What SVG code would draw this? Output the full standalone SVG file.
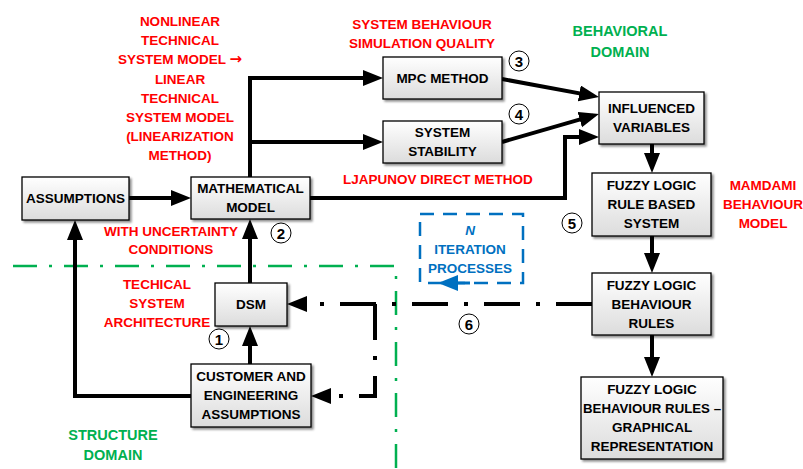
<svg xmlns="http://www.w3.org/2000/svg" width="803" height="469" viewBox="0 0 803 469">
<defs>
<linearGradient id="g" x1="0" y1="0" x2="0" y2="1"><stop offset="0" stop-color="#ffffff"/><stop offset="1" stop-color="#dcdcdc"/></linearGradient>
<filter id="sh" x="-10%" y="-10%" width="130%" height="140%"><feDropShadow dx="2" dy="2" stdDeviation="1" flood-color="#000" flood-opacity="0.45"/></filter>
<marker id="ah" markerUnits="userSpaceOnUse" markerWidth="22" markerHeight="18" refX="14" refY="8" orient="auto"><path d="M0,0 L20,8 L0,16 z" fill="#000"/></marker>
<marker id="ahb" markerUnits="userSpaceOnUse" markerWidth="22" markerHeight="18" refX="14" refY="8" orient="auto"><path d="M0,0 L20,8 L0,16 z" fill="#0070C0"/></marker>
<style>
.box{fill:url(#g);stroke:#000;stroke-width:1.3;filter:url(#sh)}
.t{font-family:"Liberation Sans",Arial,sans-serif;font-weight:bold;font-size:13.5px;text-anchor:middle;fill:#000}
.r{fill:#FF0000}
.gr{fill:#00B050;font-size:14.5px}
.bl{fill:#0070C0}
.c{fill:none;stroke:#000;stroke-width:4}
.dd{fill:none;stroke:#000;stroke-width:4;stroke-dasharray:36 16 4 16}
.gd{fill:none;stroke:#00B050;stroke-width:2.5;stroke-dasharray:24 12 3 12}
.num{fill:#fff;stroke:#000;stroke-width:1}
.nt{font-size:15px}
</style>
</defs>

<g id="domains">
<path class="gd" d="M13,266 H396 V469"/>
<rect x="420" y="214" width="103" height="69" fill="none" stroke="#0070C0" stroke-width="2.5" stroke-dasharray="14 9"/>
<line x1="470" y1="283" x2="444" y2="283" stroke="#0070C0" stroke-width="3" marker-end="url(#ahb)"/>
</g>

<g id="connectors">
<line class="c" x1="129" y1="198" x2="185" y2="198" marker-end="url(#ah)"/>
<path class="c" d="M250,177 V78 H377" marker-end="url(#ah)"/>
<path class="c" d="M250,142 H377" marker-end="url(#ah)"/>
<path class="c" d="M310,198 H565 V137 H593" marker-end="url(#ah)"/>
<line class="c" x1="502" y1="79" x2="593.1" y2="95.9" marker-end="url(#ah)"/>
<line class="c" x1="502" y1="142" x2="593.2" y2="115.7" marker-end="url(#ah)"/>
<line class="c" x1="652" y1="144" x2="652" y2="167" marker-end="url(#ah)"/>
<line class="c" x1="652" y1="236" x2="652" y2="267" marker-end="url(#ah)"/>
<line class="c" x1="652" y1="335" x2="652" y2="371" marker-end="url(#ah)"/>
<line class="c" x1="250" y1="283" x2="250" y2="225" marker-end="url(#ah)"/>
<line class="c" x1="250" y1="364" x2="250" y2="332" marker-end="url(#ah)"/>
<path class="c" d="M191,396 H75 V226" marker-end="url(#ah)"/>
<path class="dd" d="M592,304 H293" marker-end="url(#ah)"/>
<path class="dd" d="M375,304 V396 H317" marker-end="url(#ah)"/>
</g>

<g id="assumptions">
<rect class="box" x="22" y="177" width="107" height="43"/>
<text class="t" x="75.5" y="203">ASSUMPTIONS</text>
</g>
<g id="mathematical-model">
<rect class="box" x="191" y="177" width="119" height="42"/>
<text class="t" x="250.5" y="193">MATHEMATICAL</text>
<text class="t" x="250.5" y="212">MODEL</text>
</g>
<g id="mpc-method">
<rect class="box" x="383" y="57" width="119" height="42"/>
<text class="t" x="442.5" y="83">MPC METHOD</text>
</g>
<g id="system-stability">
<rect class="box" x="383" y="121" width="119" height="42"/>
<text class="t" x="442.5" y="137">SYSTEM</text>
<text class="t" x="442.5" y="156">STABILITY</text>
</g>
<g id="influenced-variables">
<rect class="box" x="599" y="92" width="105" height="52"/>
<text class="t" x="651.5" y="113">INFLUENCED</text>
<text class="t" x="651.5" y="132">VARIABLES</text>
</g>
<g id="rule-based-system">
<rect class="box" x="592" y="173" width="119" height="63"/>
<text class="t" x="651.5" y="190">FUZZY LOGIC</text>
<text class="t" x="651.5" y="209">RULE BASED</text>
<text class="t" x="651.5" y="228">SYSTEM</text>
</g>
<g id="behaviour-rules">
<rect class="box" x="592" y="273" width="119" height="62"/>
<text class="t" x="651.5" y="290">FUZZY LOGIC</text>
<text class="t" x="651.5" y="309">BEHAVIOUR</text>
<text class="t" x="651.5" y="328">RULES</text>
</g>
<g id="graphical-representation">
<rect class="box" x="581" y="377" width="142" height="82"/>
<text class="t" x="652" y="394">FUZZY LOGIC</text>
<text class="t" x="652" y="413" textLength="138" lengthAdjust="spacingAndGlyphs">BEHAVIOUR RULES –</text>
<text class="t" x="652" y="432">GRAPHICAL</text>
<text class="t" x="652" y="451">REPRESENTATION</text>
</g>
<g id="dsm">
<rect class="box" x="215" y="283" width="72" height="43"/>
<text class="t" x="251" y="309">DSM</text>
</g>
<g id="customer-engineering-assumptions">
<rect class="box" x="191" y="364" width="120" height="63"/>
<text class="t" x="251" y="381">CUSTOMER AND</text>
<text class="t" x="251" y="400">ENGINEERING</text>
<text class="t" x="251" y="419">ASSUMPTIONS</text>
</g>

<g id="numbers">
<circle class="num" cx="519" cy="61" r="10"/><text class="t nt" x="519" y="66.5">3</text>
<circle class="num" cx="519" cy="114" r="10"/><text class="t nt" x="519" y="119.5">4</text>
<circle class="num" cx="281" cy="233" r="10"/><text class="t nt" x="281" y="238.5">2</text>
<circle class="num" cx="219" cy="339" r="10"/><text class="t nt" x="219" y="344.5">1</text>
<circle class="num" cx="572" cy="223" r="10"/><text class="t nt" x="572" y="228.5">5</text>
<circle class="num" cx="469" cy="324" r="10"/><text class="t nt" x="469" y="329.5">6</text>
</g>

<g id="labels">
<text class="t r" x="180" y="26">NONLINEAR</text>
<text class="t r" x="180" y="45">TECHNICAL</text>
<text class="t r" x="180" y="64">SYSTEM MODEL <tspan font-family="'DejaVu Sans',sans-serif" font-size="15">→</tspan></text>
<text class="t r" x="180" y="84">LINEAR</text>
<text class="t r" x="180" y="103">TECHNICAL</text>
<text class="t r" x="180" y="122">SYSTEM MODEL</text>
<text class="t r" x="180" y="141">(LINEARIZATION</text>
<text class="t r" x="180" y="160">METHOD)</text>
<text class="t r" x="422" y="29">SYSTEM BEHAVIOUR</text>
<text class="t r" x="422" y="48">SIMULATION QUALITY</text>
<text class="t r" x="438" y="184">LJAPUNOV DIRECT METHOD</text>
<text class="t r" x="171" y="236">WITH UNCERTAINTY</text>
<text class="t r" x="171" y="254">CONDITIONS</text>
<text class="t r" x="157" y="289">TECHICAL</text>
<text class="t r" x="157" y="308">SYSTEM</text>
<text class="t r" x="157" y="327">ARCHITECTURE</text>
<text class="t r" x="763" y="190">MAMDAMI</text>
<text class="t r" x="763" y="209">BEHAVIOUR</text>
<text class="t r" x="763" y="228">MODEL</text>
<text class="t gr" x="620" y="36">BEHAVIORAL</text>
<text class="t gr" x="620" y="57">DOMAIN</text>
<text class="t gr" x="113" y="440">STRUCTURE</text>
<text class="t gr" x="113" y="460">DOMAIN</text>
<text class="t bl" x="470" y="235" font-style="italic">N</text>
<text class="t bl" x="470" y="254">ITERATION</text>
<text class="t bl" x="470" y="273">PROCESSES</text>
</g>
</svg>
